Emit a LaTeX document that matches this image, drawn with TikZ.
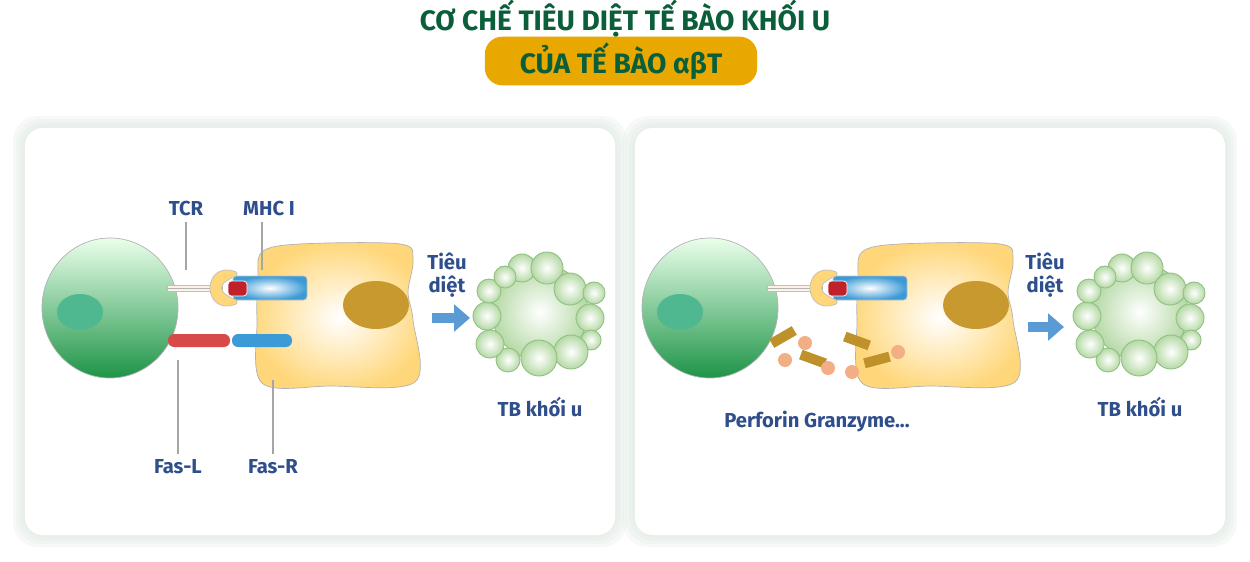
\documentclass[tikz,border=0pt]{standalone}
\usepackage{fontspec}
\setmainfont{Fira Sans}
\usetikzlibrary{arrows.meta}
\definecolor{titlegreen}{HTML}{0B5E3A}
\definecolor{pillgold}{HTML}{E8A800}
\definecolor{labelblue}{HTML}{2E4E8C}
\definecolor{cellgreen}{HTML}{1E9448}
\definecolor{nucteal}{HTML}{4FB890}
\definecolor{cellyellow}{HTML}{FFD77A}
\definecolor{nucgold}{HTML}{C8992E}
\definecolor{barblue}{HTML}{3C9AD6}
\definecolor{barred}{HTML}{D84A4A}
\definecolor{darkred}{HTML}{C0202A}
\definecolor{bubgreen}{HTML}{B5D9A5}
\definecolor{bubedge}{HTML}{8FBF80}
\definecolor{arrowblue}{HTML}{5B9BD5}
\definecolor{granbrown}{HTML}{BF912A}
\definecolor{granpink}{HTML}{F2AE84}
\definecolor{glow}{HTML}{DDE8E0}
\begin{document}
\begin{tikzpicture}[x=0.02cm, y=-0.02cm,
    panel/.style={fill=white, rounded corners=10pt},
    label/.style={font=\bfseries\fontsize{11.5}{13}\selectfont, text=labelblue, align=center},
    pointer/.style={draw=gray!70, line width=0.8pt},
    bubble/.style={draw=bubedge, line width=0.5pt, inner color=white, outer color=bubgreen},
    tcell/.style={draw=gray!60, line width=0.4pt, top color=green!8, bottom color=cellgreen},
    tumor/.style={draw=gray!60, line width=0.4pt, inner color=white, outer color=cellyellow},
    bar/.style={rounded corners=3.5pt},
    bigarrow/.style={arrowblue, line width=6pt, -{Triangle[length=9pt, width=15pt]}}
  ]
  \useasboundingbox (0,0) rectangle (1250,561);
  % titles
  \node[font=\bfseries\fontsize{16}{18}\selectfont, text=titlegreen] (title) at (625,18) {CƠ CHẾ TIÊU DIỆT TẾ BÀO KHỐI U};
  \node[fill=pillgold, rounded corners=10pt, minimum width=5.45cm, minimum height=0.76cm,
        font=\bfseries\fontsize{16}{18}\selectfont, text=titlegreen] (pill) at (621,61) {CỦA TẾ BÀO αβT};
  % panels with soft glow
  \foreach \ox in {25,635}{
    \foreach \g in {12,9,6,3}
      \fill[glow, opacity=0.25, rounded corners=14pt] (\ox-\g,128-\g) rectangle (\ox+590+\g,535+\g);
    \path[panel] (\ox,128) rectangle (\ox+590,535);}
  % the two panels share the cells
  \foreach \dx in {0,600}{
    \begin{scope}[xshift=\dx*0.02cm]
      \shade[tumor] plot[smooth cycle, tension=0.55] coordinates {(262,252) (300,244) (400,244) (413,260) (408,292) (413,320) (415,382) (330,386) (262,383) (257,320) (258,280)};
      \fill[nucgold] (376,305) ellipse [x radius=33, y radius=24];
      \shade[tcell] (110,308) ellipse [x radius=68, y radius=70];
      \fill[nucteal] (80,312) ellipse [x radius=23, y radius=18];
      \fill[orange!10, draw=gray!50] (167,285) rectangle (222,291);
      \draw[gray!60] (167,288) -- (222,288);
      \fill[cellyellow, draw=gray!50] (225,270) .. controls (205,272) and (205,304) .. (225,306)
        .. controls (240,306) and (240,300) .. (232,298) .. controls (218,292) and (218,284) .. (232,278)
        .. controls (240,276) and (240,270) .. (225,270) -- cycle;
      \shade[draw=gray!50, rounded corners=2pt, inner color=white, outer color=barblue] (233,276) rectangle (307,300);
      \fill[darkred, draw=white, rounded corners=2pt] (228,281) rectangle (247,296);
      \foreach \bx/\by/\br in {540/312/48, 522/268/14, 547/268/16, 570/289/16, 594/293/11, 590/318/14, 591/340/10,
          571/352/17, 539/358/18, 508/360/12, 490/344/14, 487/316/14, 489/291/12, 505/277/11}
        \shade[bubble] (\bx,\by) circle [radius=\br];
    \end{scope}}
  % left panel
  \fill[barred, bar] (168,334) rectangle (230,347);
  \fill[barblue, bar] (232,334) rectangle (292,347);
  \node[label] (tcr) at (186,208) {TCR};
  \node[label] (mhc) at (269,208) {MHC I};
  \node[label] (fasl) at (178,467) {Fas-L};
  \node[label] (fasr) at (273,467) {Fas-R};
  \draw[pointer] (tcr.south) -- (186,270);
  \draw[pointer] (262,222) -- (262,270);
  \draw[pointer] (178,360) -- (fasl.north);
  \draw[pointer] (273,380) -- (fasr.north);
  \node[label] (killA) at (447,275) {Tiêu\\diệt};
  \coordinate (arrA1) at (432,318);
  \coordinate (arrA2) at (470,318);
  \draw[bigarrow] (arrA1) -- (arrA2);
  \node[label] (tbA) at (540,407) {TB khối u};
  % right panel
  \foreach \gx/\gy/\ga in {783/337/30, 813/359/-20, 857/341/-20, 877/360/15}
    \fill[granbrown, rotate around={\ga:(\gx,\gy)}] (\gx-13,\gy-5) rectangle (\gx+13,\gy+5);
  \foreach \px/\py in {805/343, 785/360, 828/368, 852/372, 898/352}
    \fill[granpink] (\px,\py) circle [radius=7];
  \node[label] (perf) at (817,422) {Perforin Granzyme...};
  \node[label] (killB) at (1045,275) {Tiêu\\diệt};
  \coordinate (arrB1) at (1028,327);
  \coordinate (arrB2) at (1064,327);
  \draw[bigarrow] (arrB1) -- (arrB2);
  \node[label] (tbB) at (1140,407) {TB khối u};
\end{tikzpicture}
\end{document}
